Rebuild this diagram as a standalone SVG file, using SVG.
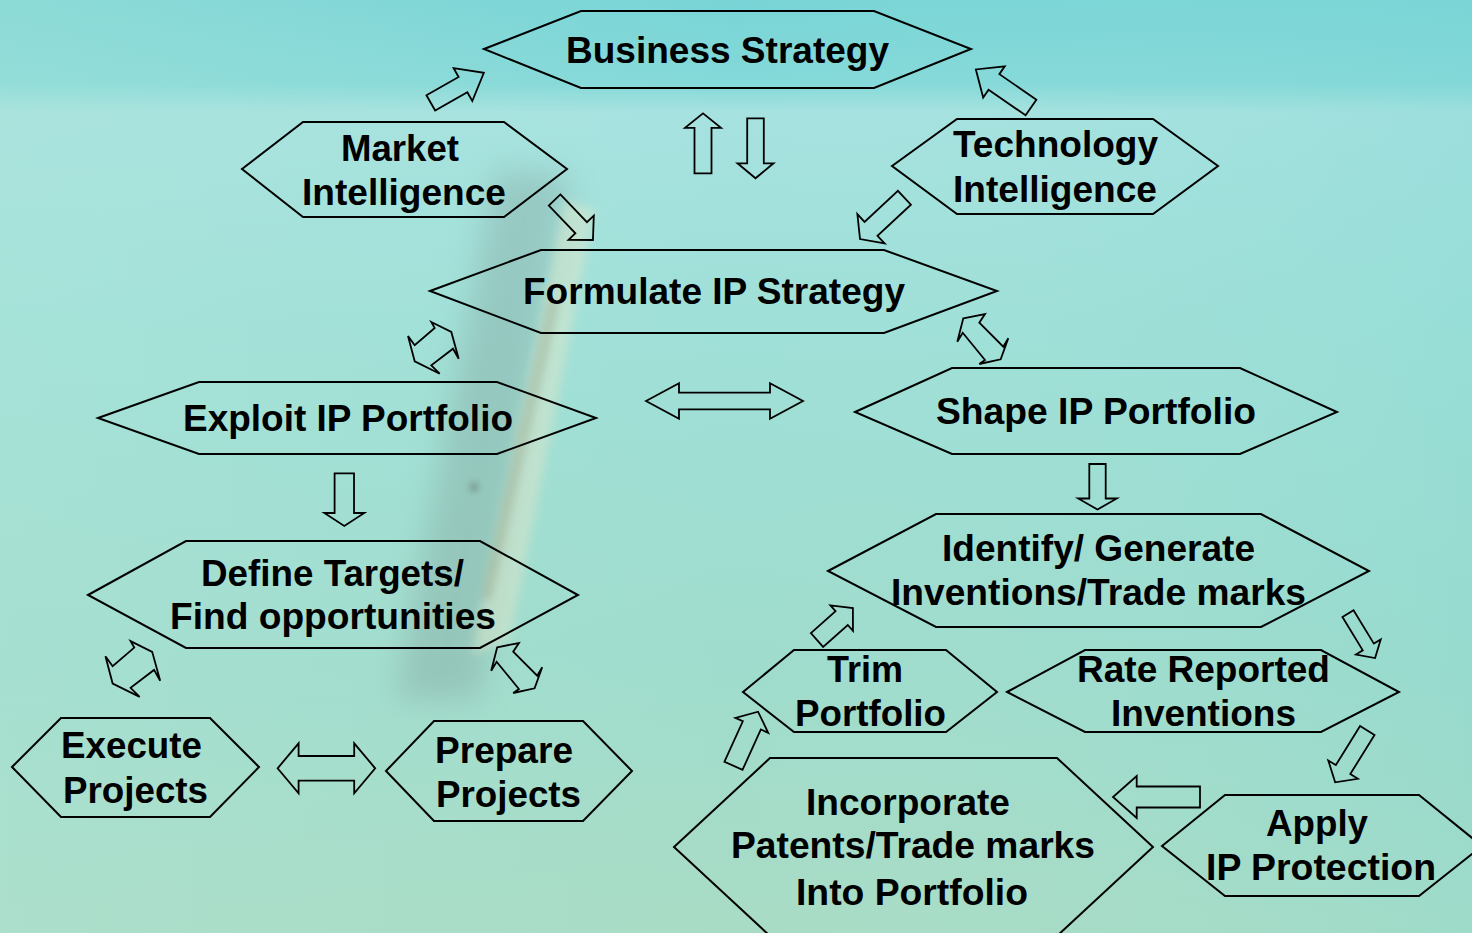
<svg xmlns="http://www.w3.org/2000/svg" xmlns:xlink="http://www.w3.org/1999/xlink" width="1472" height="933" viewBox="0 0 1472 933">
<defs>
<linearGradient id="bg" x1="0" y1="0" x2="0" y2="1">
<stop offset="0" stop-color="#78d4d6"/>
<stop offset="0.09" stop-color="#84d9d9"/>
<stop offset="0.12" stop-color="#a6e2e0"/>
<stop offset="0.35" stop-color="#9fe0d8"/>
<stop offset="0.7" stop-color="#9fdccd"/>
<stop offset="1" stop-color="#a9dcc5"/>
</linearGradient>
<linearGradient id="side" x1="0" y1="0" x2="1" y2="0">
<stop offset="0" stop-color="#b2e6d8" stop-opacity="0.35"/>
<stop offset="0.5" stop-color="#b2e6d8" stop-opacity="0"/>
<stop offset="1" stop-color="#7fd6d4" stop-opacity="0.25"/>
</linearGradient>
<filter id="blur15" x="-50%" y="-50%" width="200%" height="200%"><feGaussianBlur stdDeviation="15"/></filter>
<filter id="blur5" x="-50%" y="-50%" width="200%" height="200%"><feGaussianBlur stdDeviation="5"/></filter>
<filter id="blur3" x="-50%" y="-50%" width="200%" height="200%"><feGaussianBlur stdDeviation="3"/></filter>
<polygon id="dd" class="arr" points="-2.05,-25.85 17.95,-15.85 25.35,10.85 19.65,0.85 -2.05,17.45 6.35,25.85 -18.65,13.45 -25.35,-11.85 -18.65,-2.55 1.35,-19.85"/>
<polygon id="dr" class="arr" points="-19.5,-20.7 2.2,-25 -3.5,-16.3 20.5,7.7 25.5,-0.7 17.9,20.3 -3.5,25 2.2,21 -20.1,-6.3 -25.5,2.7"/>
</defs>
<style>
.hex{fill:none;stroke:#000;stroke-width:2;stroke-linejoin:miter}
.arr{fill:none;stroke:#000;stroke-width:1.8;stroke-linejoin:miter;vector-effect:non-scaling-stroke}
.t{font-family:"Liberation Sans",Arial,sans-serif;font-weight:bold;fill:#000;font-size:37px}
</style>
<g id="background">
<rect x="0" y="0" width="1472" height="933" fill="url(#bg)"/>
<rect x="0" y="0" width="1472" height="933" fill="url(#side)"/>
<polygon points="495,170 570,175 480,700 395,700" fill="#7f9c94" opacity="0.35" filter="url(#blur15)"/>
<polygon points="565,200 595,210 510,640 472,655" fill="#dfe8cc" opacity="0.5" filter="url(#blur5)"/>
<polygon points="548,300 560,302 492,600 480,598" fill="#9aa88a" opacity="0.35" filter="url(#blur3)"/>
<circle cx="474" cy="487" r="5" fill="#556655" opacity="0.4" filter="url(#blur3)"/>
</g>
<g id="n-business"><polygon class="hex" points="484,49 581,11 874,11 971,49 874,88 581,88"/><text class="t" x="566" y="63" font-size="39" textLength="323" lengthAdjust="spacingAndGlyphs">Business Strategy</text></g>
<g id="n-market"><polygon class="hex" points="242,169 303,122 504,122 567,169 504,217 303,217"/><text class="t" x="341" y="161" textLength="118" lengthAdjust="spacingAndGlyphs">Market</text><text class="t" x="302" y="205" textLength="204" lengthAdjust="spacingAndGlyphs">Intelligence</text></g>
<g id="n-tech"><polygon class="hex" points="892,166 957,119 1153,119 1218,166 1153,214 957,214"/><text class="t" x="953" y="157" textLength="205" lengthAdjust="spacingAndGlyphs">Technology</text><text class="t" x="953" y="202" textLength="204" lengthAdjust="spacingAndGlyphs">Intelligence</text></g>
<g id="n-formulate"><polygon class="hex" points="430,291 541,250 884,250 997,291 884,333 541,333"/><text class="t" x="523" y="304" font-size="38" textLength="382" lengthAdjust="spacingAndGlyphs">Formulate IP Strategy</text></g>
<g id="n-exploit"><polygon class="hex" points="98,418 199,382 497,382 596,418 497,454 199,454"/><text class="t" x="183" y="431" textLength="330" lengthAdjust="spacingAndGlyphs">Exploit IP Portfolio</text></g>
<g id="n-shape"><polygon class="hex" points="855,412 952,368 1240,368 1337,412 1240,454 952,454"/><text class="t" x="936" y="424" textLength="320" lengthAdjust="spacingAndGlyphs">Shape IP Portfolio</text></g>
<g id="n-define"><polygon class="hex" points="88,595 186,541 480,541 578,595 480,648 186,648"/><text class="t" x="201" y="586" textLength="263" lengthAdjust="spacingAndGlyphs">Define Targets/</text><text class="t" x="170" y="629" textLength="326" lengthAdjust="spacingAndGlyphs">Find opportunities</text></g>
<g id="n-identify"><polygon class="hex" points="828,571 936,514 1261,514 1369,571 1261,627 936,627"/><text class="t" x="942" y="561" textLength="313" lengthAdjust="spacingAndGlyphs">Identify/ Generate</text><text class="t" x="891" y="605" textLength="415" lengthAdjust="spacingAndGlyphs">Inventions/Trade marks</text></g>
<g id="n-trim"><polygon class="hex" points="743,692 794,650 946,650 997,692 946,732 794,732"/><text class="t" x="827" y="682" textLength="76" lengthAdjust="spacingAndGlyphs">Trim</text><text class="t" x="795" y="726" textLength="151" lengthAdjust="spacingAndGlyphs">Portfolio</text></g>
<g id="n-rate"><polygon class="hex" points="1007,692 1085,650 1321,650 1399,692 1321,732 1085,732"/><text class="t" x="1077" y="682" textLength="253" lengthAdjust="spacingAndGlyphs">Rate Reported</text><text class="t" x="1111" y="726" textLength="185" lengthAdjust="spacingAndGlyphs">Inventions</text></g>
<g id="n-execute"><polygon class="hex" points="12,767 61,718 210,718 259,767 210,817 61,817"/><text class="t" x="61" y="758" textLength="141" lengthAdjust="spacingAndGlyphs">Execute</text><text class="t" x="63" y="803" textLength="145" lengthAdjust="spacingAndGlyphs">Projects</text></g>
<g id="n-prepare"><polygon class="hex" points="386,771 434,721 583,721 632,771 583,821 434,821"/><text class="t" x="435" y="763" textLength="138" lengthAdjust="spacingAndGlyphs">Prepare</text><text class="t" x="436" y="807" textLength="145" lengthAdjust="spacingAndGlyphs">Projects</text></g>
<g id="n-incorporate"><polygon class="hex" points="674,847 770,758 1057,758 1153,847 1057,936 770,936"/><text class="t" x="806" y="815" textLength="204" lengthAdjust="spacingAndGlyphs">Incorporate</text><text class="t" x="731" y="858" textLength="364" lengthAdjust="spacingAndGlyphs">Patents/Trade marks</text><text class="t" x="796" y="905" textLength="232" lengthAdjust="spacingAndGlyphs">Into Portfolio</text></g>
<g id="n-apply"><polygon class="hex" points="1162,846 1225,795 1419,795 1482,846 1419,896 1225,896"/><text class="t" x="1266" y="836" textLength="102" lengthAdjust="spacingAndGlyphs">Apply</text><text class="t" x="1206" y="880" textLength="230" lengthAdjust="spacingAndGlyphs">IP Protection</text></g>
<g id="connectors">
<polygon class="arr" transform="translate(430.8,102.9) rotate(-29.6)" points="0,-8.8 37,-8.8 37,-18.9 61,0 37,18.9 37,8.8 0,8.8"/>
<polygon class="arr" transform="translate(1031,107.5) rotate(-145.4)" points="0,-9.5 45,-9.5 45,-19 67,0 45,19 45,9.5 0,9.5"/>
<polygon class="arr" transform="translate(703,173.3) rotate(-90)" points="0,-8.5 45.5,-8.5 45.5,-18 60,0 45.5,18 45.5,8.5 0,8.5"/>
<polygon class="arr" transform="translate(755.5,118.3) rotate(90)" points="0,-8.3 45,-8.3 45,-18 60,0 45,18 45,8.3 0,8.3"/>
<polygon class="arr" transform="translate(554.6,200) rotate(46.2)" points="0,-8 38.4,-8 38.4,-17.5 55.4,0 38.4,17.5 38.4,8 0,8"/>
<polygon class="arr" transform="translate(904.4,197.8) rotate(137.1)" points="0,-9.5 45.6,-9.5 45.6,-20 60.6,0 45.6,20 45.6,9.5 0,9.5"/>
<polygon class="arr" transform="translate(344.3,473.3) rotate(90)" points="0,-9.7 39.7,-9.7 39.7,-20 52.7,0 39.7,20 39.7,9.7 0,9.7"/>
<polygon class="arr" transform="translate(1097.5,464) rotate(90)" points="0,-8.2 34.5,-8.2 34.5,-19.3 45.5,0 34.5,19.3 34.5,8.2 0,8.2"/>
<polygon class="arr" transform="translate(817,640) rotate(-41.6)" points="0,-9.2 33,-9.2 33,-17 48,0 33,17 33,9.2 0,9.2"/>
<polygon class="arr" transform="translate(733.5,765.8) rotate(-65.6)" points="0,-9.9 44.4,-9.9 44.4,-18 59.4,0 44.4,18 44.4,9.9 0,9.9"/>
<polygon class="arr" transform="translate(1348,613.7) rotate(58.6)" points="0,-6.5 39,-6.5 39,-14.5 52,0 39,14.5 39,6.5 0,6.5"/>
<polygon class="arr" transform="translate(1367.3,730.5) rotate(121.8)" points="0,-8.5 46,-8.5 46,-17.4 61,0 46,17.4 46,8.5 0,8.5"/>
<polygon class="arr" transform="translate(1200,797) rotate(180)" points="0,-10.5 63.3,-10.5 63.3,-21 87,0 63.3,21 63.3,10.5 0,10.5"/>
<polygon class="arr" transform="translate(646,401)" points="0,0 33,-17.8 33,-8.3 124,-8.3 124,-17.8 157,0 124,17.8 124,8.3 33,8.3 33,17.8"/>
<polygon class="arr" transform="translate(277.6,768.3)" points="0,0 21,-25 21,-12.3 76.6,-12.3 76.6,-25 97.6,0 76.6,25 76.6,12.3 21,12.3 21,25"/>
<use xlink:href="#dd" href="#dd" transform="translate(433.35,347.85)"/>
<use xlink:href="#dr" href="#dr" transform="translate(982.8,339)"/>
<use xlink:href="#dd" href="#dd" transform="translate(132.8,669) scale(1.08)"/>
<use xlink:href="#dr" href="#dr" transform="translate(516.7,668)"/>
</g>
</svg>
